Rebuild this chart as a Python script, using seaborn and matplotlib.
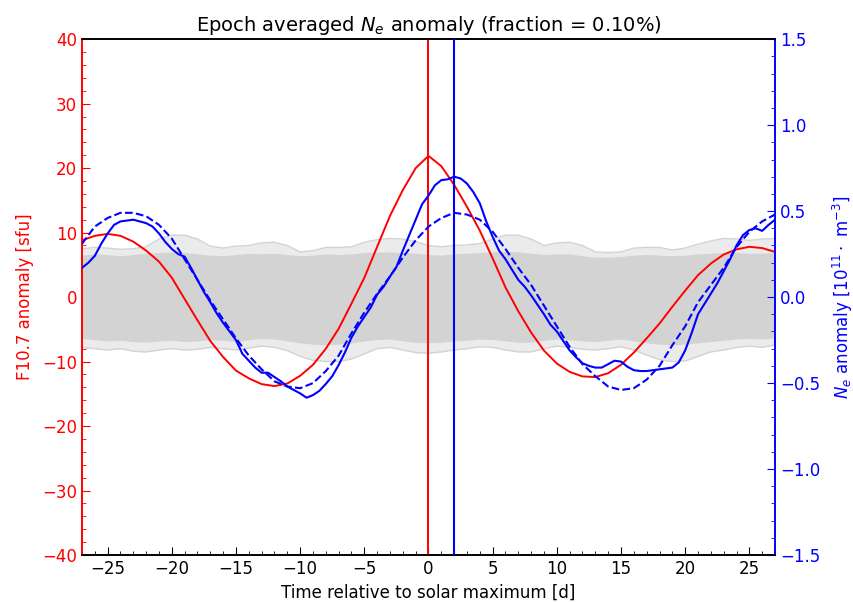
import numpy as np
import matplotlib
matplotlib.use("Agg")
import matplotlib.pyplot as plt
import seaborn as sns
from matplotlib.ticker import MultipleLocator

sns.set_style("ticks")
plt.rcParams["font.family"] = ["DejaVu Sans"]
plt.rcParams["text.color"] = "black"
plt.rcParams["axes.labelcolor"] = "black"

# ── 数据 ──────────────────────────────────────────────
days = list(range(-27, 28))
days_half = [d / 2 for d in range(-54, 55)]

# F10.7 异常 [sfu]
f107 = [8.8, 9.5, 9.8, 9.5, 8.6, 7.2, 5.5, 3.0, -0.3, -3.6,
        -6.8, -9.3, -11.4, -12.6, -13.5, -13.8, -13.4, -12.2, -10.5, -8.0,
        -4.9, -1.0, 3.0, 7.8, 12.6, 16.6, 20.0, 21.9, 20.3, 17.4,
        14.0, 10.3, 6.0, 1.5, -2.2, -5.5, -8.3, -10.3, -11.6, -12.3,
        -12.4, -11.8, -10.5, -8.6, -6.4, -4.1, -1.5, 1.0, 3.4, 5.2,
        6.6, 7.4, 7.8, 7.6, 7.0]

# Ne 异常 [1e11 m^-3]，半天分辨率
ne = [0.17, 0.20, 0.24, 0.31, 0.37, 0.42, 0.44, 0.445, 0.45, 0.44,
      0.43, 0.41, 0.37, 0.32, 0.28, 0.25, 0.235, 0.17, 0.10, 0.03,
      -0.03, -0.095, -0.15, -0.20, -0.25, -0.33, -0.37, -0.41, -0.44, -0.44,
      -0.465, -0.49, -0.52, -0.54, -0.56, -0.585, -0.57, -0.545, -0.505, -0.46,
      -0.395, -0.32, -0.235, -0.17, -0.115, -0.06, 0.015, 0.06, 0.12, 0.175,
      0.27, 0.36, 0.45, 0.54, 0.59, 0.65, 0.68, 0.685, 0.70, 0.69,
      0.66, 0.61, 0.545, 0.44, 0.35, 0.27, 0.22, 0.16, 0.10, 0.06,
      0.01, -0.045, -0.10, -0.16, -0.20, -0.255, -0.31, -0.35, -0.385, -0.40,
      -0.41, -0.41, -0.39, -0.37, -0.375, -0.405, -0.425, -0.43, -0.43, -0.425,
      -0.42, -0.415, -0.41, -0.38, -0.31, -0.21, -0.10, -0.04, 0.02, 0.08,
      0.15, 0.22, 0.30, 0.36, 0.39, 0.40, 0.385, 0.42, 0.45]

# Ne 拟合（虚线）
ne_fit = [0.31, 0.41, 0.46, 0.49, 0.49, 0.47, 0.42, 0.34, 0.22, 0.10,
          -0.02, -0.13, -0.24, -0.34, -0.42, -0.49, -0.52, -0.53, -0.50, -0.43,
          -0.34, -0.21, -0.09, 0.02, 0.12, 0.23, 0.33, 0.41, 0.46, 0.49,
          0.48, 0.45, 0.38, 0.28, 0.17, 0.07, -0.05, -0.17, -0.29, -0.39,
          -0.46, -0.52, -0.54, -0.53, -0.48, -0.40, -0.28, -0.17, -0.03, 0.07,
          0.17, 0.29, 0.38, 0.44, 0.48]

# 随机样本灰带包络 [sfu]
dense_hi = [6.5, 6.7, 6.6, 6.4, 6.6, 6.8, 6.9, 7.0, 6.9, 6.7,
            6.5, 6.4, 6.6, 6.8, 6.7, 6.8, 6.6, 6.4, 6.5, 6.7,
            6.6, 6.7, 6.9, 7.0, 7.0, 6.9, 6.8, 6.6, 6.5, 6.7,
            6.8, 6.9, 7.0, 7.1, 7.0, 6.8, 6.6, 6.7, 6.7, 6.4,
            6.2, 6.2, 6.3, 6.5, 6.6, 6.5, 6.4, 6.5, 6.7, 6.8,
            6.9, 6.9, 6.8, 6.8, 6.9]
dense_lo = [-6.4, -6.6, -6.8, -6.7, -6.9, -7.0, -6.8, -6.7, -6.9, -6.8,
            -6.6, -6.7, -6.9, -6.6, -6.4, -6.5, -6.8, -7.1, -7.3, -7.4,
            -7.3, -7.1, -6.8, -6.6, -6.5, -6.8, -7.0, -7.1, -7.0, -6.8,
            -6.7, -6.5, -6.6, -6.8, -7.0, -7.0, -6.7, -6.5, -6.6, -6.8,
            -6.9, -6.7, -6.5, -6.8, -7.1, -7.3, -7.4, -7.3, -7.1, -6.9,
            -6.7, -6.5, -6.4, -6.5, -6.3]
outer_hi = [7.5, 7.7, 7.6, 7.4, 7.5, 7.8, 9.0, 9.6, 9.6, 9.0,
            7.9, 7.6, 7.9, 8.0, 8.4, 8.5, 8.0, 7.0, 7.2, 7.7,
            7.7, 7.8, 8.5, 8.9, 9.1, 9.0, 8.6, 8.0, 7.8, 8.0,
            8.1, 8.3, 9.0, 9.6, 9.6, 9.0, 8.0, 8.4, 8.5, 8.0,
            7.0, 6.9, 7.0, 7.6, 7.7, 7.7, 7.3, 7.6, 8.2, 8.7,
            9.1, 9.0, 8.8, 9.0, 9.1]
outer_lo = [-7.8, -8.0, -8.2, -8.0, -8.4, -8.5, -8.2, -8.0, -8.2, -8.1,
            -7.8, -8.0, -8.2, -7.9, -7.6, -7.8, -8.3, -9.2, -9.8, -10.0,
            -10.0, -9.6, -8.8, -8.0, -7.8, -8.2, -8.6, -8.7, -8.5, -8.2,
            -8.0, -7.7, -7.8, -8.2, -8.5, -8.5, -8.0, -7.6, -7.8, -8.1,
            -8.2, -8.0, -7.7, -8.2, -9.0, -9.7, -10.0, -9.9, -9.2, -8.5,
            -8.2, -7.8, -7.6, -7.8, -7.4]

t_f107_max = 0.0
t_ne_max = 1.95

# ── 绘图 ──────────────────────────────────────────────
fig, ax = plt.subplots(figsize=(8.54, 6.02), dpi=100)
fig.subplots_adjust(left=0.096, right=0.9075, top=0.935, bottom=0.078)
ax2 = ax.twinx()

ax.fill_between(days, outer_lo, outer_hi, color="lightgray", alpha=0.45, lw=0, zorder=1)
ax.fill_between(days, dense_lo, dense_hi, color="lightgray", lw=0, zorder=1)
sns.lineplot(x=days, y=outer_hi, ax=ax, color="lightgray", lw=1, zorder=1)
sns.lineplot(x=days, y=outer_lo, ax=ax, color="lightgray", lw=1, zorder=1)

sns.lineplot(x=days, y=f107, ax=ax, color="red", lw=1.4, zorder=3)
ax.axvline(t_f107_max, color="red", lw=1.4, zorder=3)

sns.lineplot(x=days_half, y=ne, ax=ax2, color="blue", lw=1.5, zorder=4)
sns.lineplot(x=days, y=ne_fit, ax=ax2, color="blue", lw=1.5, ls="--", zorder=4)
ax2.axvline(t_ne_max, color="blue", lw=1.5, zorder=4)

ax.set_xlim(-27, 27)
ax.set_ylim(-40, 40)
ax2.set_ylim(-1.5, 1.5)

ax.xaxis.set_major_locator(MultipleLocator(5))
ax.xaxis.set_minor_locator(MultipleLocator(1))
ax.yaxis.set_major_locator(MultipleLocator(10))
ax.yaxis.set_minor_locator(MultipleLocator(2))
ax2.yaxis.set_major_locator(MultipleLocator(0.5))
ax2.yaxis.set_minor_locator(MultipleLocator(0.1))

ax.tick_params(axis="x", which="both", direction="in", labelsize=12, colors="black")
ax.tick_params(axis="x", which="major", length=6)
ax.tick_params(axis="x", which="minor", length=3)
ax.tick_params(axis="y", which="both", direction="in", colors="red", labelsize=12)
ax.tick_params(axis="y", which="major", length=6)
ax.tick_params(axis="y", which="minor", length=3)
ax2.tick_params(axis="y", which="both", direction="in", colors="blue", labelsize=12)
ax2.tick_params(axis="y", which="major", length=6)
ax2.tick_params(axis="y", which="minor", length=3)

for a in (ax, ax2):
    a.spines["left"].set_color("red")
    a.spines["right"].set_color("blue")
    a.spines["top"].set_color("black")
    a.spines["bottom"].set_color("black")
    for s in a.spines.values():
        s.set_linewidth(1.2)

ax.set_title("Epoch averaged $N_e$ anomaly (fraction = 0.10%)", fontsize=14, color="black")
ax.set_xlabel("Time relative to solar maximum [d]", fontsize=12, color="black")
ax.set_ylabel("F10.7 anomaly [sfu]", fontsize=12, color="red", labelpad=6)
ax2.set_ylabel(r"$N_e$ anomaly [$10^{11} \cdot$ m$^{-3}$]", fontsize=12, color="blue",
               labelpad=8)

fig.savefig("out.png", dpi=100)
